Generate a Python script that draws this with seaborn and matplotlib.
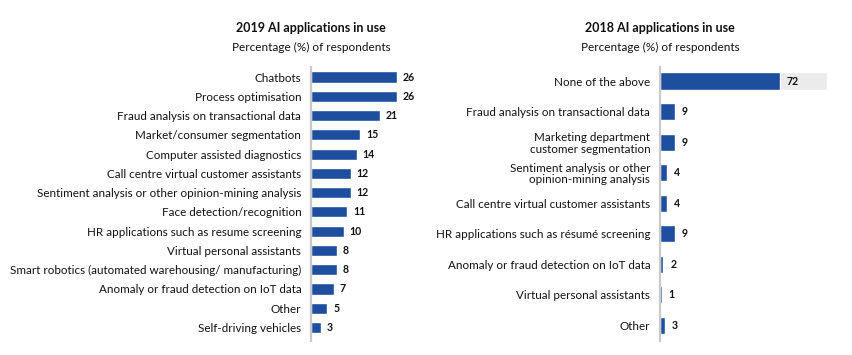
import pandas as pd
import matplotlib
matplotlib.use("Agg")
import matplotlib.pyplot as plt
import seaborn as sns

# ---------------------------------------------------------------
# DATA
# ---------------------------------------------------------------

apps_2019 = [
    "Chatbots",
    "Process optimisation",
    "Fraud analysis on transactional data",
    "Market/consumer segmentation",
    "Computer assisted diagnostics",
    "Call centre virtual customer assistants",
    "Sentiment analysis or other opinion-mining analysis",
    "Face detection/recognition",
    "HR applications such as resume screening",
    "Virtual personal assistants",
    "Smart robotics (automated warehousing/ manufacturing)",
    "Anomaly or fraud detection on IoT data",
    "Other",
    "Self-driving vehicles",
]
pct_2019 = [26, 26, 21, 15, 14, 12, 12, 11, 10, 8, 8, 7, 5, 3]

apps_2018 = [
    "None of the above",
    "Fraud analysis on transactional data",
    "Marketing department\ncustomer segmentation",
    "Sentiment analysis or other\nopinion-mining analysis",
    "Call centre virtual customer assistants",
    "HR applications such as résumé screening",
    "Anomaly or fraud detection on IoT data",
    "Virtual personal assistants",
    "Other",
]
pct_2018 = [72, 9, 9, 4, 4, 9, 2, 1, 3]

# row shaded in grey up to 100 %
highlight_2018 = ["None of the above"]
full_scale = 100

BLUE = "#1d4f9e"
GREY_BG = "#ebebeb"
SPINE = "#c9c9c9"

sns.set_theme(style="white")
plt.rcParams["font.family"] = ["Lato", "DejaVu Sans"]

fig = plt.figure(figsize=(8.53, 3.55), dpi=100)
W, H = 853, 355


def px_axes(x0, x1, y0, y1):
    return fig.add_axes([x0 / W, 1 - y1 / H, (x1 - x0) / W, (y1 - y0) / H])


def style_axes(ax, labelsize):
    for s in ["top", "right", "bottom"]:
        ax.spines[s].set_visible(False)
    ax.spines["left"].set_color(SPINE)
    ax.spines["left"].set_linewidth(1.6)
    ax.set_xticks([])
    ax.set_xlabel("")
    ax.set_ylabel("")
    ax.tick_params(axis="y", length=0, pad=7, labelsize=labelsize, labelcolor="#111111")
    for t in ax.get_yticklabels():
        t.set_linespacing(1.1)


def add_titles(ax, x_px, title, subtitle):
    fig.text(x_px / W, 1 - 28 / H, title, ha="center", va="center",
             fontsize=9, fontweight="bold", color="#111111")
    fig.text(x_px / W, 1 - 47 / H, subtitle, ha="center", va="center",
             fontsize=8.5, color="#111111")


# ---------------------------------------------------------------
# 2019 panel
# ---------------------------------------------------------------

df19 = pd.DataFrame({"app": apps_2019, "pct": pct_2019})
ax1 = px_axes(311, 411, 67, 341)
sns.barplot(data=df19, x="pct", y="app", order=apps_2019, color=BLUE,
            width=0.58, saturation=1, ax=ax1)
ax1.bar_label(ax1.containers[0], padding=4, fontsize=7.6, fontweight="bold",
              color="#111111")
ax1.set_xlim(0, 100 / 3.3)
ax1.set_ylim(len(apps_2019) - 0.3, -0.52)
style_axes(ax1, 8.4)
add_titles(ax1, 311, "2019 AI applications in use", "Percentage (%) of respondents")

# ---------------------------------------------------------------
# 2018 panel
# ---------------------------------------------------------------

df18 = pd.DataFrame({"app": apps_2018, "pct": pct_2018})
df_bg = pd.DataFrame({"app": highlight_2018, "pct": [full_scale] * len(highlight_2018)})

ax2 = px_axes(660, 833, 67, 341)
sns.barplot(data=df_bg, x="pct", y="app", order=apps_2018, color=GREY_BG,
            width=0.56, saturation=1, ax=ax2)
sns.barplot(data=df18, x="pct", y="app", order=apps_2018, color=BLUE,
            width=0.56, saturation=1, ax=ax2)
ax2.bar_label(ax2.containers[-1], padding=5, fontsize=7.6, fontweight="bold",
              color="#111111")
ax2.set_xlim(0, 173 / 1.667)
ax2.set_ylim(len(apps_2018) - 0.48, -0.46)
style_axes(ax2, 8.4)
add_titles(ax2, 660, "2018 AI applications in use", "Percentage (%) of respondents")

fig.savefig("out.png", dpi=100)
